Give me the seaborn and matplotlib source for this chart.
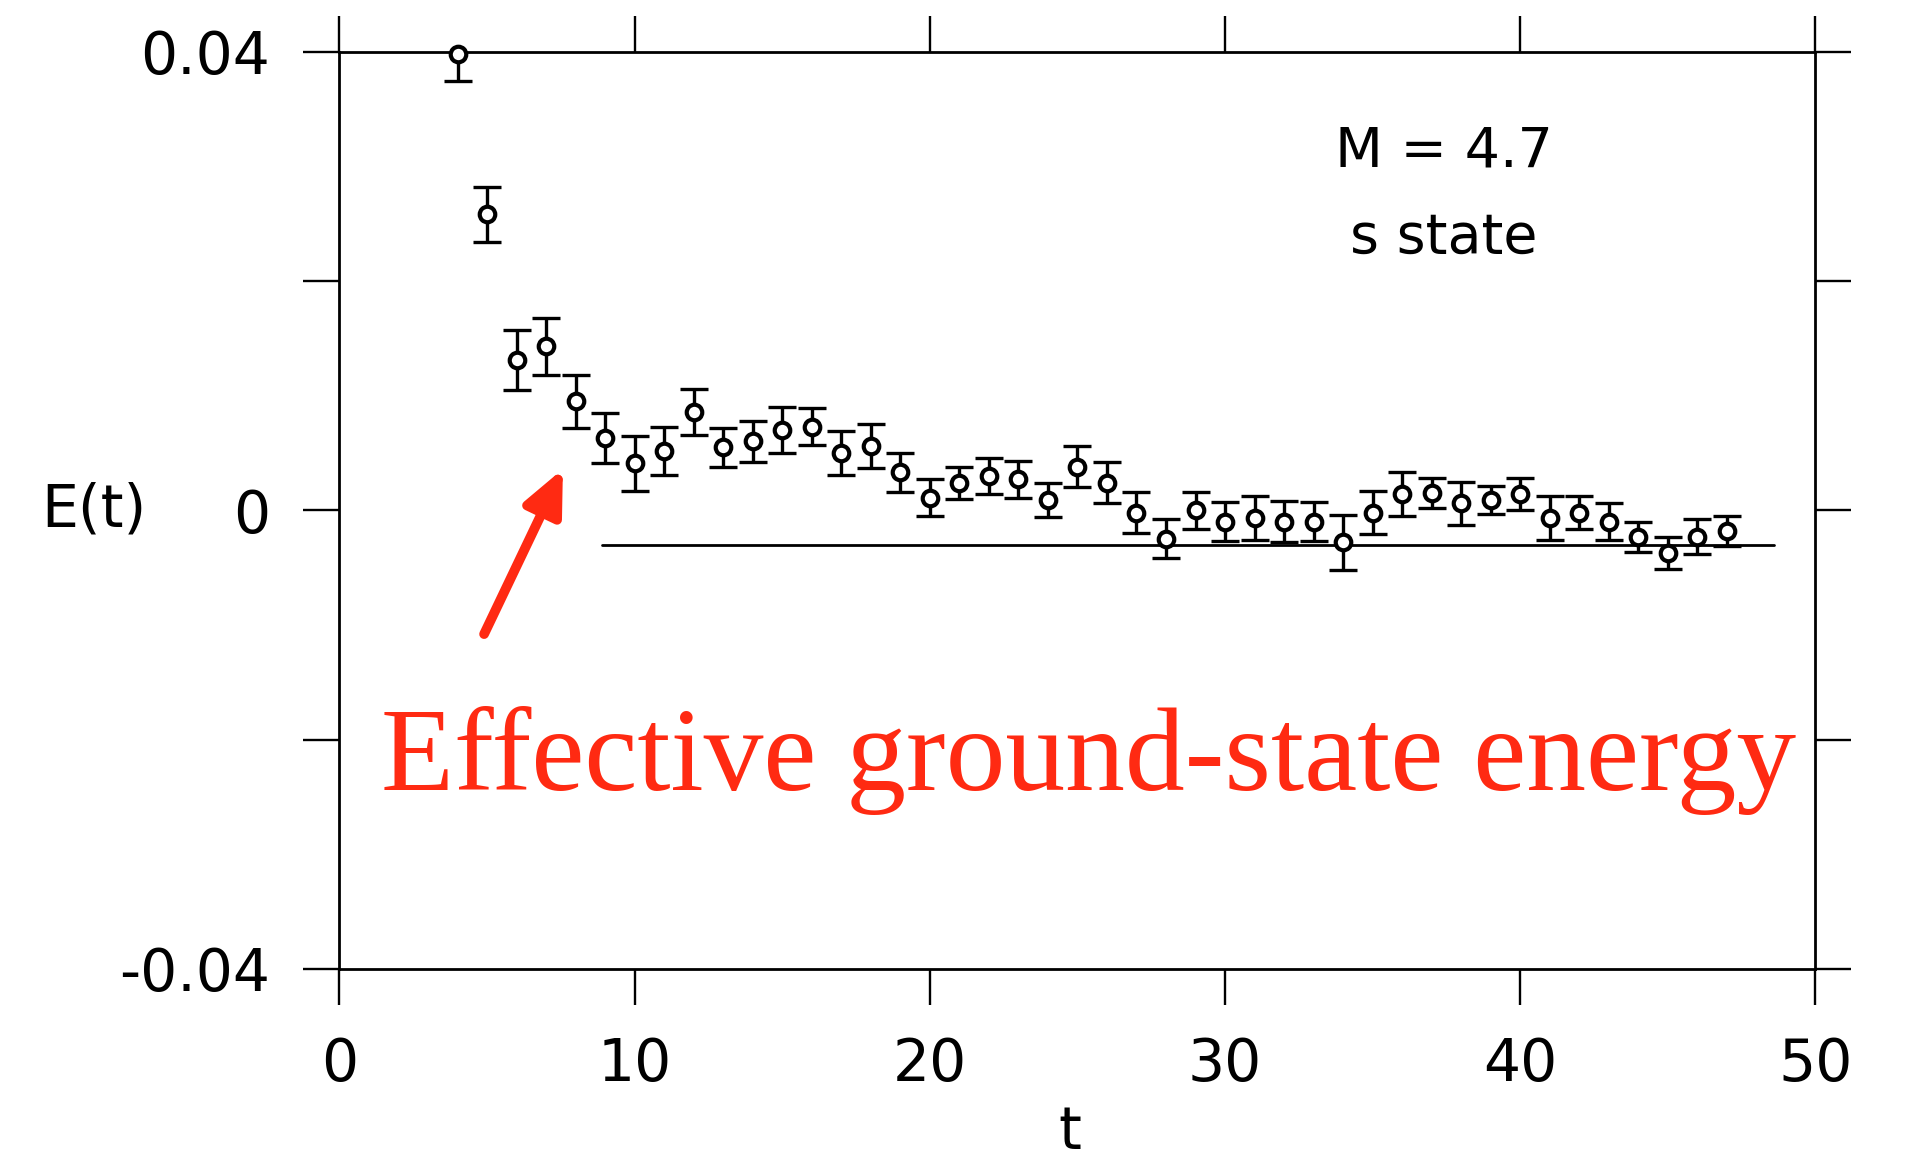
import numpy as np
import pandas as pd
import seaborn as sns
import matplotlib
matplotlib.use("Agg")
import matplotlib.pyplot as plt

# ---- data ----
t = [4, 5, 6, 7, 8, 9, 10, 11, 12, 13, 14, 15, 16, 17, 18, 19, 20, 21, 22, 23, 24, 25,
     26, 27, 28, 29, 30, 31, 32, 33, 34, 35, 36, 37, 38, 39, 40, 41, 42, 43, 44, 45, 46, 47]
E = [0.0398, 0.0258, 0.0131, 0.0143, 0.0095, 0.0063, 0.0041, 0.0052, 0.0086, 0.0055,
     0.0060, 0.0070, 0.0073, 0.0050, 0.0056, 0.0033, 0.0011, 0.0024, 0.0030, 0.0027,
     0.0009, 0.0038, 0.0024, -0.0002, -0.0025, 0.0000, -0.0010, -0.0007, -0.0010, -0.0010,
     -0.0028, -0.0002, 0.0014, 0.0015, 0.0006, 0.0009, 0.0014, -0.0007, -0.0002, -0.0010,
     -0.0023, -0.0037, -0.0023, -0.0018]
err = [0.0024, 0.0024, 0.0026, 0.0025, 0.0023, 0.0022, 0.0024, 0.0021, 0.0020, 0.0017,
       0.0018, 0.0020, 0.0016, 0.0019, 0.0019, 0.0017, 0.0016, 0.0014, 0.0016, 0.0016,
       0.0015, 0.0018, 0.0018, 0.0018, 0.0017, 0.0016, 0.0017, 0.0019, 0.0018, 0.0017,
       0.0024, 0.0019, 0.0019, 0.0013, 0.0019, 0.0012, 0.0014, 0.0019, 0.0014, 0.0016,
       0.0013, 0.0014, 0.0015, 0.0013]
fit_t = [8.9, 48.6]
fit_E = [-0.003, -0.003]
xticks = [0, 10, 20, 30, 40, 50]
yticks = [-0.04, -0.02, 0, 0.02, 0.04]
ytick_labels = ["-0.04", "", "0", "", "0.04"]
arrow_tail = (4.9, -0.0108)
arrow_head = (7.57, 0.0036)

df = pd.DataFrame({"t": t, "E": E, "err": err})
fit = pd.DataFrame({"t": fit_t, "E": fit_E})

sns.set_theme(style="ticks")
plt.rcParams["font.family"] = ["DejaVu Sans"]

fig = plt.figure(figsize=(19.07, 11.59), dpi=100)
ax = fig.add_axes([0.178, 0.164, 0.774, 0.7915])

lw = 2.0
# horizontal fit line
sns.lineplot(data=fit, x="t", y="E", ax=ax, color="black", linewidth=lw, zorder=2)
# error bars
ax.errorbar(df["t"], df["E"], yerr=df["err"], fmt="none", ecolor="black",
            elinewidth=2.4, capsize=10, capthick=2.4, zorder=3, clip_on=True)
# open circle markers
sns.scatterplot(data=df, x="t", y="E", ax=ax, marker="o", s=125,
                facecolor="white", edgecolor="black", linewidth=3.0, zorder=4,
                clip_on=False)

ax.set_xlim(0, 50)
ax.set_ylim(-0.04, 0.04)
ax.set_xticks(xticks)
ax.set_xticklabels([str(v) for v in xticks])
ax.set_yticks(yticks)
ax.set_yticklabels(ytick_labels)

for s in ax.spines.values():
    s.set_linewidth(2.0)
    s.set_color("black")

ax.tick_params(axis="both", which="major", direction="out", length=26, width=1.7,
               color="black", labelsize=42, labelcolor="black",
               top=True, right=True, bottom=True, left=True)
ax.tick_params(axis="y", pad=24)
ax.tick_params(axis="x", pad=22)

ax.set_xlabel("t", fontsize=42, color="black")
ax.xaxis.set_label_coords(0.495, -0.178)
ax.xaxis.label.set_va("center")
ax.set_ylabel("E(t)", fontsize=42, rotation=0, color="black")
ax.yaxis.set_label_coords(-0.202, 0.5)
ax.yaxis.label.set_ha("left")
ax.yaxis.label.set_va("center")

ax.text(0.748, 0.891, "M = 4.7", transform=ax.transAxes, ha="center", va="center",
        fontsize=40, color="black")
ax.text(0.748, 0.797, "s state", transform=ax.transAxes, ha="center", va="center",
        fontsize=40, color="black")

ax.text(0.028, 0.195, "Effective ground-state energy", transform=ax.transAxes,
        ha="left", va="baseline", fontsize=86, color="#ff2a12",
        family=["Liberation Serif", "DejaVu Serif"])

ax.annotate("", xy=arrow_head, xytext=arrow_tail,
            arrowprops=dict(arrowstyle="-|>,head_length=2.2,head_width=1.0",
                            color="#ff2a12", linewidth=7, shrinkA=0, shrinkB=0),
            annotation_clip=False)

ax.grid(False)
fig.savefig("out.png", dpi=100, facecolor="white")
